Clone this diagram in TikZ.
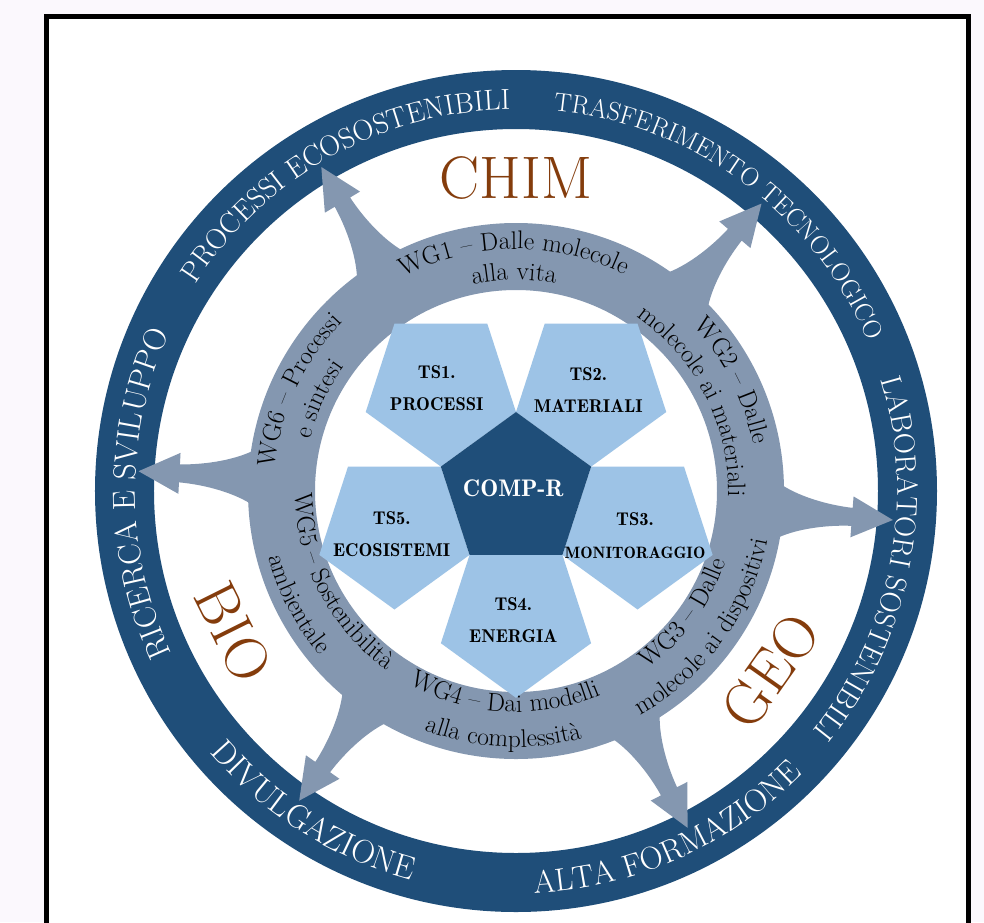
\documentclass[tikz,border=0pt]{standalone}
\usetikzlibrary{decorations.text}

\definecolor{ringblue}{HTML}{1F4E79}
\definecolor{wggray}{HTML}{8497B0}
\definecolor{tsblue}{HTML}{9DC3E6}
\definecolor{areabrown}{HTML}{843C0C}
\definecolor{pagebg}{HTML}{FBF8FD}

% text set along an arc around the origin, read clockwise (letters stand outward)
% #1 centre angle, #2 baseline radius, #3 font size, #4 colour, #5 text
\newcommand\cwarc[5]{%
  \path[decorate,decoration={text along path,text align=center,text color=#4,
      text={|\fontsize{#3}{#3}\selectfont|#5}}]
    ({#1+80}:#2) arc[start angle={#1+80},end angle={#1-80},radius=#2];}
% the same, read counter-clockwise (letters stand inward)
\newcommand\ccwarc[5]{%
  \path[decorate,decoration={text along path,text align=center,text color=#4,
      text={|\fontsize{#3}{#3}\selectfont|#5}}]
    ({#1-80}:#2) arc[start angle={#1-80},end angle={#1+80},radius=#2];}

\begin{document}
\begin{tikzpicture}[x=1pt,y=1pt,
  arealabel/.style={text=areabrown,font=\fontsize{60}{60}\selectfont,inner sep=0pt},
  tslabel/.style={align=center,font=\fontsize{18.5}{32.5}\fontseries{b}\selectfont,inner sep=0pt},
  complabel/.style={text=white,font=\fontsize{24}{24}\fontseries{b}\selectfont,inner sep=0pt},
  wgarrow/.style={fill=wggray},
  frame/.style={fill=white,draw=black,line width=5pt}]

\useasboundingbox (-516,-431) rectangle (468,491);
\clip (-516,-431) rectangle (468,491);
\fill[pagebg] (-516,-431) rectangle (468,491);
\path[frame] (-469.2,-470) rectangle (452.8,474);

% outer ring of activities
\fill[ringblue,even odd rule] (0,0) circle[radius=421] (0,0) circle[radius=362];
% ring of working groups
\fill[wggray,even odd rule] (0,0) circle[radius=268] (0,0) circle[radius=201];

% six arrows from the working-group ring towards the outer ring
\foreach \a in {177,121,49.5,-4.4,-63,-125}{
  \fill[wgarrow,rotate=\a]
    (262,-28) .. controls (280,-17) and (310,-10) .. (337,-9)
    -- (337,-20.5) -- (378,0) -- (337,20.5) -- (337,9)
    .. controls (310,10) and (280,17) .. (262,28) -- cycle;
}

% five thematic pentagons, each the mirror of the core across one edge
\foreach \n in {126,54,-18,-90,198}{
  \fill[tsblue,shift={(\n:127.8)}]
    (\n:79) -- ({\n+72}:79) -- ({\n+144}:79) -- ({\n+216}:79) -- ({\n+288}:79) -- cycle;
}
% core pentagon
\fill[ringblue] (90:79) -- (162:79) -- (234:79) -- (306:79) -- (18:79) -- cycle;

\node[complabel] (comp) at (-2.7,2.7) {COMP-R};
\node[tslabel] (ts1) at (-79.3,102.7) {TS1.\\PROCESSI};
\node[tslabel] (ts2) at (72.3,101) {TS2.\\MATERIALI};
\node[tslabel] (ts3) at (119,-44.8) {TS3.\\{\fontsize{16.5}{32.5}\selectfont MONITORAGGIO}};
\node[tslabel] (ts4) at (-2.7,-129) {TS4.\\ENERGIA};
\node[tslabel] (ts5) at (-124.3,-43.2) {TS5.\\ECOSISTEMI};

% disciplinary areas
\node[arealabel] (chim) at (90:313) {CHIM};
\node[arealabel,rotate=-63.5] (bio) at (206.5:316) {BIO};
\node[arealabel,rotate=54.8] (geo) at (-35.2:312) {GEO};

% outer ring captions
\cwarc{180.4}{380.6}{32}{white}{RICERCA E SVILUPPO}
\cwarc{119}{381.6}{29}{white}{PROCESSI ECOSOSTENIBILI}
\cwarc{53.7}{382.6}{26}{white}{TRASFERIMENTO TECNOLOGICO}
\cwarc{-11}{381.4}{29.5}{white}{LABORATORI SOSTENIBILI}
\ccwarc{-66}{402.4}{32}{white}{ALTA FORMAZIONE}
\ccwarc{237.7}{402.8}{33}{white}{DIVULGAZIONE}

% working-group captions
\cwarc{90.5}{242}{25.5}{black}{WG1 – Dalle molecole}
\cwarc{90.5}{211}{25.5}{black}{alla vita}
\cwarc{27}{242}{25.5}{black}{WG2 – Dalle}
\cwarc{27}{212}{25.5}{black}{molecole ai materiali}
\ccwarc{-36}{221}{25.5}{black}{WG3 – Dalle}
\ccwarc{-36}{256}{25.5}{black}{molecole ai dispositivi}
\ccwarc{-93}{221}{25.5}{black}{WG4 – Dai modelli}
\ccwarc{-93}{256}{25.5}{black}{alla complessità}
\ccwarc{207.5}{221}{25.5}{black}{WG5 – Sostenibilità}
\ccwarc{207.5}{256}{25.5}{black}{ambientale}
\cwarc{155}{242}{25.5}{black}{WG6 – Processi}
\cwarc{155}{212}{25.5}{black}{e sintesi}

\end{tikzpicture}
\end{document}
